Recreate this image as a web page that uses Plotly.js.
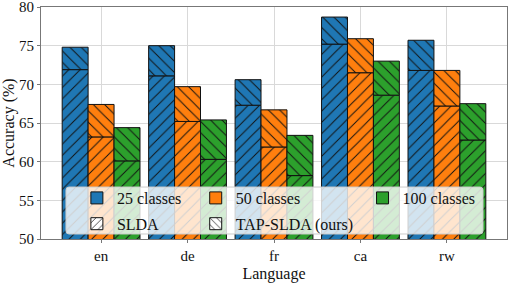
<!DOCTYPE html>
<html><head><meta charset="utf-8">
<script src="https://cdn.plot.ly/plotly-3.0.1.min.js"></script>
<style>html,body{margin:0;padding:0;background:#fff}</style>
</head><body>
<div id="chart" style="width:509px;height:283px"></div>
<script>
const languages = ['en','de','fr','ca','rw'];
const classLabels = ['25 classes','50 classes','100 classes'];
const classColors = ['#1f77b4','#ff7f0e','#2ca02c'];
// SLDA accuracy (%)
const slda25  = [71.9, 71.1, 67.3, 75.2, 71.8];
const slda50  = [63.2, 65.2, 61.9, 71.5, 67.2];
const slda100 = [60.1, 60.3, 58.2, 68.6, 62.8];
// TAP-SLDA (ours) accuracy (%)
const tap25  = [74.8, 75.0, 70.6, 78.7, 75.7];
const tap50  = [67.4, 69.7, 66.7, 75.9, 71.8];
const tap100 = [64.4, 65.4, 63.4, 73.0, 67.5];
const yTicks = [50,55,60,65,70,75,80];

const sldaSets = [slda25, slda50, slda100];
const tapSets = [tap25, tap50, tap100];
const FONT = 'Liberation Serif, DejaVu Serif, serif';

const traces = [];
for (let i = 0; i < 3; i++) {
  traces.push({
    type:'bar', x:languages, y:sldaSets[i], offsetgroup:'g'+i, showlegend:false,
    marker:{color:classColors[i], line:{color:'#111', width:1},
      pattern:{shape:'/', fgcolor:'#111', bgcolor:classColors[i], size:8, solidity:0.12, fillmode:'replace'}},
    hoverinfo:'skip'
  });
  traces.push({
    type:'bar', x:languages, y:tapSets[i].map((v,k)=>v - sldaSets[i][k]), base:sldaSets[i],
    offsetgroup:'g'+i, showlegend:false,
    marker:{color:classColors[i], line:{color:'#111', width:1},
      pattern:{shape:'\\', fgcolor:'#111', bgcolor:classColors[i], size:8, solidity:0.12, fillmode:'replace'}},
    hoverinfo:'skip'
  });
}
// legend entries
const legNames = ['legend','legend2','legend3'];
for (let i = 0; i < 3; i++) {
  traces.push({type:'bar', x:[null], y:[null], name:classLabels[i], legend:legNames[i], legendgroup:'c'+i,
    marker:{color:classColors[i], line:{color:'#111', width:1}}});
}
traces.push({type:'bar', x:[null], y:[null], name:'SLDA', legend:'legend', legendgroup:'s',
  marker:{color:'#fff', line:{color:'#111', width:1}, pattern:{shape:'/', fgcolor:'#111', bgcolor:'#fff', size:6, solidity:0.15}}});
traces.push({type:'bar', x:[null], y:[null], name:'TAP-SLDA (ours)', legend:'legend2', legendgroup:'t',
  marker:{color:'#fff', line:{color:'#111', width:1}, pattern:{shape:'\\', fgcolor:'#111', bgcolor:'#fff', size:6, solidity:0.15}}});

// legend frame (paper coords)
const x0=0.0536, x1=0.9485, y0=0.0216, y1=0.224, rx=0.0064, ry=0.013;
const framePath = `M${x0+rx},${y0} L${x1-rx},${y0} Q${x1},${y0} ${x1},${y0+ry} L${x1},${y1-ry} Q${x1},${y1} ${x1-rx},${y1} L${x0+rx},${y1} Q${x0},${y1} ${x0},${y1-ry} L${x0},${y0+ry} Q${x0},${y0} ${x0+rx},${y0} Z`;

const legBase = {bgcolor:'rgba(0,0,0,0)', borderwidth:0, font:{family:FONT, size:16, color:'#111'},
  traceorder:'grouped', tracegroupgap:2, yanchor:'top', xanchor:'left', y:0.25};

const layout = {
  width:509, height:283,
  margin:{l:41, r:2, t:7, b:44},
  paper_bgcolor:'#fff', plot_bgcolor:'#fff',
  font:{family:FONT, size:15, color:'#111'},
  barmode:'group', bargap:0.1, bargroupgap:0,
  xaxis:{type:'category', range:[-0.695, 4.695], showgrid:true, gridcolor:'#d9d9d9', gridwidth:1,
    showline:true, mirror:true, linecolor:'#777', linewidth:1, ticks:'outside', ticklen:3, tickcolor:'#777',
    tickfont:{family:FONT, size:15}, title:{text:'Language', font:{family:FONT, size:16}, standoff:6}},
  yaxis:{range:[50,80], tickvals:yTicks, showgrid:true, gridcolor:'#d9d9d9', gridwidth:1,
    showline:true, mirror:true, linecolor:'#777', linewidth:1, ticks:'outside', ticklen:3, tickcolor:'#777',
    tickfont:{family:FONT, size:15}, zeroline:false, ticklabeloverflow:'allow',
    title:{text:'Accuracy (%)', font:{family:FONT, size:16}, standoff:4}},
  shapes:[{type:'path', xref:'paper', yref:'paper', path:framePath, layer:'above',
    fillcolor:'rgba(255,255,255,0.8)', line:{color:'#cccccc', width:1}}],
  legend:Object.assign({}, legBase, {x:0.077}),
  legend2:Object.assign({}, legBase, {x:0.332}),
  legend3:Object.assign({}, legBase, {x:0.69})
};
Plotly.newPlot('chart', traces, layout, {staticPlot:true, displayModeBar:false});
</script>
</body></html>
